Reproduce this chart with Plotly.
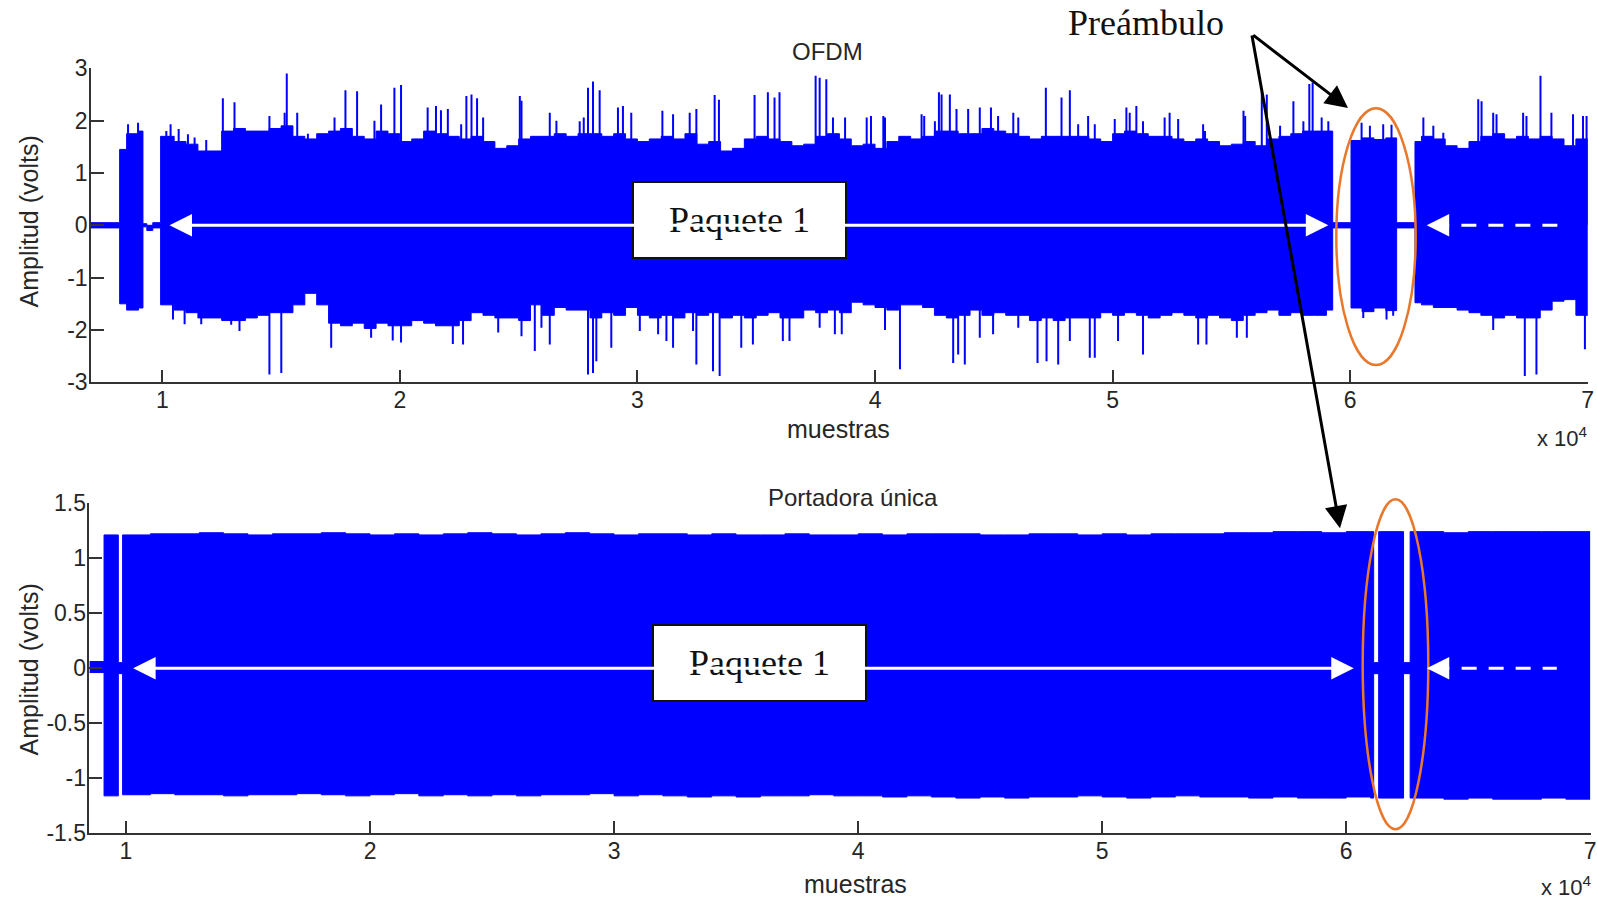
import plotly.graph_objects as go

W, H = 1597, 903
BLUE = "#0000FF"
AXIS = "#333333"
TXT = "#262626"
SANS = "Arial, Liberation Sans, sans-serif"
SERIF = "Times New Roman, Liberation Serif, serif"

# ---------------- OFDM signal: per-interval envelope of the dense trace ----------------
# interval start (samples); the last entry closes the final interval
ofdm_edges = [
    7000, 8206, 8500, 9000, 9187, 9350, 9600,
    9930, 10500, 11000, 11500, 12000, 12500, 13000, 13500, 14000, 14500,
    15000, 15500, 16000, 16500, 17000, 17500, 18000, 18500, 19000, 19500,
    20000, 20500, 21000, 21500, 22000, 22500, 23000, 23500, 24000, 24500,
    25000, 25500, 26000, 26500, 27000, 27500, 28000, 28500, 29000, 29500,
    30000, 30500, 31000, 31500, 32000, 32500, 33000, 33500, 34000, 34500,
    35000, 35500, 36000, 36500, 37000, 37500, 38000, 38500, 39000, 39500,
    40000, 40500, 41000, 41500, 42000, 42500, 43000, 43500, 44000, 44500,
    45000, 45500, 46000, 46500, 47000, 47500, 48000, 48500, 49000, 49500,
    50000, 50500, 51000, 51500, 52000, 52500, 53000, 53500, 54000, 54500,
    55000, 55500, 56000, 56500, 57000, 57500, 58000, 58500, 59000,
    59264, 60035, 60500, 61000, 61500, 61956,
    62727, 63000, 63500, 64000, 64500, 65000, 65500, 66000, 66500, 67000,
    67500, 68000, 68500, 69000, 69500, 70000,
]
ofdm_hi = [
    0.05, 1.45, 1.75, 1.80, 0.03, 0.00, 0.05,
    1.70, 1.60, 1.55, 1.42, 1.42, 1.80, 1.85, 1.80, 1.80, 1.85,
    1.90, 1.70, 1.65, 1.75, 1.80, 1.85, 1.70, 1.65, 1.80, 1.75,
    1.60, 1.65, 1.80, 1.75, 1.70, 1.65, 1.70, 1.60, 1.47, 1.52,
    1.65, 1.70, 1.70, 1.75, 1.70, 1.75, 1.75, 1.70, 1.75, 1.65,
    1.60, 1.65, 1.70, 1.65, 1.75, 1.55, 1.60, 1.42, 1.47, 1.65,
    1.70, 1.65, 1.60, 1.52, 1.55, 1.70, 1.75, 1.65, 1.52, 1.55,
    1.47, 1.60, 1.70, 1.65, 1.70, 1.80, 1.80, 1.75, 1.75, 1.85,
    1.80, 1.75, 1.70, 1.65, 1.70, 1.70, 1.70, 1.70, 1.65, 1.60,
    1.75, 1.80, 1.75, 1.70, 1.70, 1.65, 1.60, 1.65, 1.60, 1.52,
    1.55, 1.60, 1.52, 1.65, 1.70, 1.75, 1.80, 1.80, 1.80,
    0.05, 1.62, 1.67, 1.64, 1.67, 0.05,
    1.60, 1.70, 1.65, 1.52, 1.47, 1.60, 1.70, 1.75, 1.65, 1.70,
    1.65, 1.70, 1.65, 1.52, 1.65,
]
ofdm_lo = [
    -0.05, -1.50, -1.62, -1.58, -0.03, -0.10, -0.05,
    -1.52, -1.62, -1.67, -1.77, -1.77, -1.82, -1.82, -1.77, -1.72, -1.67,
    -1.67, -1.52, -1.30, -1.52, -1.87, -1.92, -1.87, -1.97, -1.87, -1.92,
    -1.92, -1.82, -1.87, -1.92, -1.92, -1.82, -1.67, -1.72, -1.77, -1.77,
    -1.82, -1.52, -1.72, -1.57, -1.62, -1.62, -1.77, -1.67, -1.72, -1.57,
    -1.72, -1.77, -1.72, -1.77, -1.67, -1.72, -1.67, -1.77, -1.72, -1.77,
    -1.72, -1.67, -1.77, -1.77, -1.62, -1.67, -1.62, -1.67, -1.47, -1.52,
    -1.57, -1.62, -1.52, -1.52, -1.57, -1.72, -1.77, -1.72, -1.62, -1.72,
    -1.67, -1.72, -1.72, -1.82, -1.77, -1.82, -1.77, -1.77, -1.77, -1.67,
    -1.72, -1.67, -1.72, -1.77, -1.72, -1.67, -1.72, -1.77, -1.72, -1.77,
    -1.82, -1.72, -1.67, -1.62, -1.72, -1.67, -1.72, -1.72, -1.62,
    -0.05, -1.58, -1.65, -1.58, -1.63, -0.05,
    -1.48, -1.52, -1.57, -1.57, -1.62, -1.67, -1.72, -1.77, -1.72, -1.77,
    -1.77, -1.62, -1.45, -1.42, -1.72,
]

# isolated OFDM peaks above the dense band (sample, volts)
ofdm_peak_x = [
    8560, 8980, 10170, 10350, 10690, 11080, 11360, 11850, 12550, 13040,
    14510, 15150, 15240, 15680, 16130, 17250, 17710, 18200, 18930, 19210,
    19770, 20050, 21170, 21520, 21730, 22020, 22580, 22800, 23015, 23250,
    23505, 25050, 25120, 26310, 26590, 27570, 27740, 27920, 28130, 28410,
    29180, 29390, 29740, 31050, 31500, 32200, 32480, 33250, 33430, 34930,
    35490, 35770, 35980, 37500, 37670, 37950, 38230, 38740, 39650, 39830,
    40350, 40420, 41960, 42070, 42520, 42690, 42800, 43150, 43430, 43920,
    44410, 44880, 45180, 45820, 46030, 47190, 47850, 48200, 48550, 48970,
    49250, 50090, 50580, 50720, 51000, 51280, 52190, 52400, 52760, 53810,
    53890, 55510, 55580, 56280, 56490, 57050, 57610, 58030, 58280, 58420,
    58800, 59080, 60480, 60830, 61390, 61740, 63080, 63500, 63920, 65390,
    65530, 66020, 66160, 67280, 67420, 68010, 68470, 69380, 69800, 69950,
]
ofdm_peak_v = [
    1.93, 1.96, 1.80, 1.93, 1.84, 1.74, 1.68, 1.63, 2.43, 2.35,
    2.09, 2.15, 2.90, 2.15, 1.75, 2.06, 2.58, 2.56, 2.00, 2.31,
    2.63, 2.68, 2.25, 2.28, 2.20, 2.22, 1.93, 2.47, 2.50, 2.43,
    2.06, 2.47, 2.38, 2.15, 2.00, 1.99, 2.06, 2.63, 2.75, 2.58,
    2.25, 2.28, 2.15, 2.19, 2.12, 2.15, 2.22, 2.49, 2.40, 2.49,
    2.54, 2.44, 2.54, 2.86, 2.82, 2.79, 2.06, 2.06, 2.06, 2.09,
    2.09, 2.06, 2.12, 2.09, 1.99, 2.54, 2.50, 2.50, 2.22, 2.22,
    2.25, 2.25, 2.09, 2.15, 2.06, 2.63, 2.44, 2.58, 1.93, 2.09,
    1.93, 2.03, 2.25, 2.15, 2.28, 1.99, 2.06, 2.15, 2.03, 1.93,
    1.80, 2.19, 2.09, 2.54, 2.50, 1.90, 2.37, 1.99, 2.70, 2.73,
    2.06, 1.99, 1.96, 1.90, 1.93, 1.92, 2.06, 1.90, 1.77, 2.41,
    2.37, 2.15, 2.12, 2.15, 2.09, 2.86, 2.15, 2.12, 2.09, 2.09,
]
# isolated OFDM troughs below the dense band (sample, volts)
ofdm_trough_x = [
    10450, 10940, 11640, 12900, 13250, 14510, 15010, 17110, 18790, 19700,
    20050, 22230, 22660, 24140, 25120, 25680, 25960, 26310, 27920, 28130,
    28270, 28900, 30100, 30870, 31220, 31500, 32340, 32480, 33180, 33460,
    34370, 34860, 36120, 36400, 37670, 38310, 38600, 40420, 41050, 43290,
    43500, 43780, 44410, 44970, 46030, 46840, 47220, 47710, 48200, 49040,
    49250, 50230, 51280, 53600, 53950, 55230, 55650, 60550, 61530, 61810,
    66020, 67350, 67840, 69880,
]
ofdm_trough_v = [
    -1.80, -1.89, -1.89, -1.90, -2.02, -2.85, -2.82, -2.34, -2.15, -2.20,
    -2.24, -2.27, -2.28, -2.05, -2.12, -2.40, -1.96, -2.28, -2.85, -2.82,
    -2.60, -2.34, -2.02, -2.08, -2.21, -2.34, -2.02, -2.66, -2.79, -2.88,
    -2.34, -2.28, -2.21, -2.21, -1.96, -2.08, -2.08, -2.00, -2.75, -2.63,
    -2.47, -2.66, -2.15, -2.08, -1.96, -2.63, -2.60, -2.66, -2.21, -2.53,
    -2.53, -2.21, -2.47, -2.28, -2.28, -2.15, -2.15, -1.77, -1.80, -1.73,
    -2.00, -2.88, -2.85, -2.37,
]

# ---------------- single-carrier signal: per-interval envelope ----------------
sc_edges = [
    8500, 9100, 9685, 9860,
    11000, 12000, 13000, 14000, 15000, 16000, 17000, 18000, 19000, 20000,
    21000, 22000, 23000, 24000, 25000, 26000, 27000, 28000, 29000, 30000,
    31000, 32000, 33000, 34000, 35000, 36000, 37000, 38000, 39000, 40000,
    41000, 42000, 43000, 44000, 45000, 46000, 47000, 48000, 49000, 50000,
    51000, 52000, 53000, 54000, 55000, 56000, 57000, 58000, 59000, 60000,
    61000, 61125, 61330, 62350, 62620,
    63000, 64000, 65000, 66000, 67000, 68000, 69000, 70000,
]
sc_hi = [
    0.06, 1.21, 0.05, 1.21,
    1.22, 1.22, 1.23, 1.22, 1.21, 1.22, 1.22, 1.23, 1.22, 1.21,
    1.22, 1.21, 1.22, 1.23, 1.22, 1.21, 1.22, 1.23, 1.22, 1.21,
    1.22, 1.22, 1.21, 1.22, 1.21, 1.21, 1.22, 1.21, 1.21, 1.22,
    1.21, 1.22, 1.22, 1.22, 1.21, 1.21, 1.22, 1.22, 1.21, 1.22,
    1.21, 1.22, 1.22, 1.22, 1.23, 1.23, 1.24, 1.24, 1.23, 1.24,
    1.24, 0.05, 1.24, 0.05, 1.24,
    1.24, 1.23, 1.24, 1.24, 1.24, 1.24, 1.24,
]
sc_lo = [
    -0.04, -1.16, -0.05, -1.15,
    -1.14, -1.15, -1.15, -1.16, -1.15, -1.15, -1.14, -1.15, -1.16, -1.15,
    -1.14, -1.16, -1.15, -1.16, -1.15, -1.16, -1.15, -1.15, -1.14, -1.16,
    -1.15, -1.16, -1.17, -1.16, -1.17, -1.16, -1.16, -1.15, -1.16, -1.16,
    -1.17, -1.16, -1.17, -1.18, -1.17, -1.18, -1.17, -1.17, -1.16, -1.17,
    -1.18, -1.17, -1.16, -1.17, -1.17, -1.18, -1.17, -1.18, -1.18, -1.17,
    -1.18, -0.05, -1.18, -0.05, -1.18,
    -1.18, -1.19, -1.18, -1.19, -1.19, -1.18, -1.19,
]

x_tick_vals = [10000, 20000, 30000, 40000, 50000, 60000, 70000]
x_tick_text = ["1", "2", "3", "4", "5", "6", "7"]
ofdm_tick_vals = [-3, -2, -1, 0, 1, 2, 3]
ofdm_tick_text = ["-3", "-2", "-1", "0", "1", "2", "3"]
sc_tick_vals = [-1.5, -1, -0.5, 0, 0.5, 1, 1.5]
sc_tick_text = ["-1.5", "-1", "-0.5", "0", "0.5", "1", "1.5"]


def px(x):
    return x / W


def py(y):
    return 1 - y / H


def band(edges, hi, lo, xa, ya):
    """Filled step band between the per-interval maxima and minima."""
    up = go.Scatter(x=edges, y=hi + [hi[-1]], mode="lines",
                    line=dict(color=BLUE, width=1, shape="hv"),
                    xaxis=xa, yaxis=ya, hoverinfo="skip", showlegend=False)
    dn = go.Scatter(x=edges, y=lo + [lo[-1]], mode="lines",
                    line=dict(color=BLUE, width=1, shape="hv"),
                    fill="tonexty", fillcolor=BLUE,
                    xaxis=xa, yaxis=ya, hoverinfo="skip", showlegend=False)
    return [up, dn]


def spikes(xs, vs, xa, ya):
    sx, sy = [], []
    for x, v in zip(xs, vs):
        sx += [x, x, None]
        sy += [0, v, None]
    return go.Scatter(x=sx, y=sy, mode="lines", line=dict(color=BLUE, width=2),
                      xaxis=xa, yaxis=ya, hoverinfo="skip", showlegend=False)


fig = go.Figure()
for t in band(ofdm_edges, ofdm_hi, ofdm_lo, "x", "y"):
    fig.add_trace(t)
fig.add_trace(spikes(ofdm_peak_x, ofdm_peak_v, "x", "y"))
fig.add_trace(spikes(ofdm_trough_x, ofdm_trough_v, "x", "y"))
for t in band(sc_edges, sc_hi, sc_lo, "x2", "y2"):
    fig.add_trace(t)

axis_common = dict(
    showgrid=False, zeroline=False, showline=True, linecolor=AXIS, linewidth=1.5,
    ticks="inside", ticklen=13, tickwidth=1.5, tickcolor=AXIS, automargin=False,
    tickfont=dict(family=SANS, size=23, color=TXT), mirror=False,
    ticklabeloverflow="allow",
)

fig.update_layout(
    width=W, height=H,
    margin=dict(l=0, r=0, t=0, b=0, pad=0, autoexpand=False),
    paper_bgcolor="white", plot_bgcolor="white",
    showlegend=False,
    xaxis=dict(domain=[px(91), px(1588)], range=[7000, 70010], anchor="y",
               tickvals=x_tick_vals, ticktext=x_tick_text, ticklabelstandoff=-4,
               **axis_common),
    yaxis=dict(domain=[py(382.3), py(68.3)], range=[-3, 3], anchor="x",
               tickvals=ofdm_tick_vals, ticktext=ofdm_tick_text, ticklabelstandoff=-3,
               **axis_common),
    xaxis2=dict(domain=[px(89.4), px(1590.5)], range=[8500, 70010], anchor="y2",
                tickvals=x_tick_vals, ticktext=x_tick_text, ticklabelstandoff=-4,
                **axis_common),
    yaxis2=dict(domain=[py(833.3), py(503)], range=[-1.5, 1.5], anchor="x2",
                tickvals=sc_tick_vals, ticktext=sc_tick_text, ticklabelstandoff=-3,
                **axis_common),
)

ann = []


def label(text, x, y, size, family=SANS, color=TXT, angle=0, xanchor="center"):
    ann.append(dict(text=text, x=px(x), y=py(y), xref="paper", yref="paper",
                    showarrow=False, xanchor=xanchor, yanchor="middle",
                    textangle=angle, font=dict(family=family, size=size, color=color)))


# titles and axis labels
label("OFDM", 827, 51, 24)
label("Portadora única", 853, 498, 24)
label("muestras", 838, 429, 25)
label("muestras", 855, 884, 25)
label("Amplitud (volts)", 28.5, 222, 25, angle=-90)
label("Amplitud (volts)", 28.5, 670, 25, angle=-90)
label("x 10<sup>4</sup>", 1590, 437, 22, xanchor="right")
label("x 10<sup>4</sup>", 1594, 886, 22, xanchor="right")
label("Preámbulo", 1146, 23, 36, family=SERIF, color="#111111")

# packet boxes
for cx, cy in [(739.2, 219.8), (759.8, 663.0)]:
    ann.append(dict(text="Paquete 1", x=px(cx), y=py(cy), xref="paper", yref="paper",
                    showarrow=False, xanchor="center", yanchor="middle",
                    width=209, height=72, bgcolor="white", bordercolor="#111111",
                    borderwidth=2, borderpad=1,
                    font=dict(family=SERIF, size=36, color="#111111")))

# white packet arrows (solid span + dashed continuation)
for xa, ya, x_left, x_right, x_next in [
    ("x", "y", 10240, 59080, 63220),
    ("x2", "y2", 10230, 60310, 63300),
]:
    ann.append(dict(text="", x=x_right, y=0, ax=x_left, ay=0, xref=xa, yref=ya,
                    axref=xa, ayref=ya, showarrow=True, arrowside="end+start",
                    arrowhead=2, startarrowhead=2, arrowsize=1.5, startarrowsize=1.5,
                    arrowwidth=3, arrowcolor="white", standoff=0, startstandoff=0))
    ann.append(dict(text="", x=x_next, y=0, ax=24, ay=0, xref=xa, yref=ya,
                    axref="pixel", ayref="pixel", showarrow=True,
                    arrowhead=2, arrowsize=1.5, arrowwidth=3, arrowcolor="white",
                    standoff=0))

# black pointers from the "Preámbulo" label
for tip in [(1348, 108), (1340, 528.3)]:
    tail = (1251.7, 34)
    ann.append(dict(text="", x=px(tip[0]), y=py(tip[1]), xref="paper", yref="paper",
                    ax=tail[0] - tip[0], ay=tail[1] - tip[1], axref="pixel", ayref="pixel",
                    showarrow=True, arrowhead=2, arrowsize=1.5, arrowwidth=3,
                    arrowcolor="#000000", standoff=0))

fig.update_layout(annotations=ann)

shapes = [
    # dashed continuation lines
    dict(type="line", xref="x", yref="y", x0=64680, x1=68760, y0=0, y1=0,
         line=dict(color="white", width=3, dash="15px,12px")),
    dict(type="line", xref="x2", yref="y2", x0=64730, x1=68630, y0=0, y1=0,
         line=dict(color="white", width=3, dash="15px,12px")),
    # preamble highlight ellipses
    dict(type="circle", xref="paper", yref="paper",
         x0=px(1336.3), x1=px(1415.7), y0=py(365), y1=py(108.3),
         line=dict(color="#E8782C", width=2.5)),
    dict(type="circle", xref="paper", yref="paper",
         x0=px(1362.7), x1=px(1428.3), y0=py(829.3), y1=py(499.3),
         line=dict(color="#E8782C", width=2.5)),
]
fig.update_layout(shapes=shapes)

fig.write_html("out.html")
